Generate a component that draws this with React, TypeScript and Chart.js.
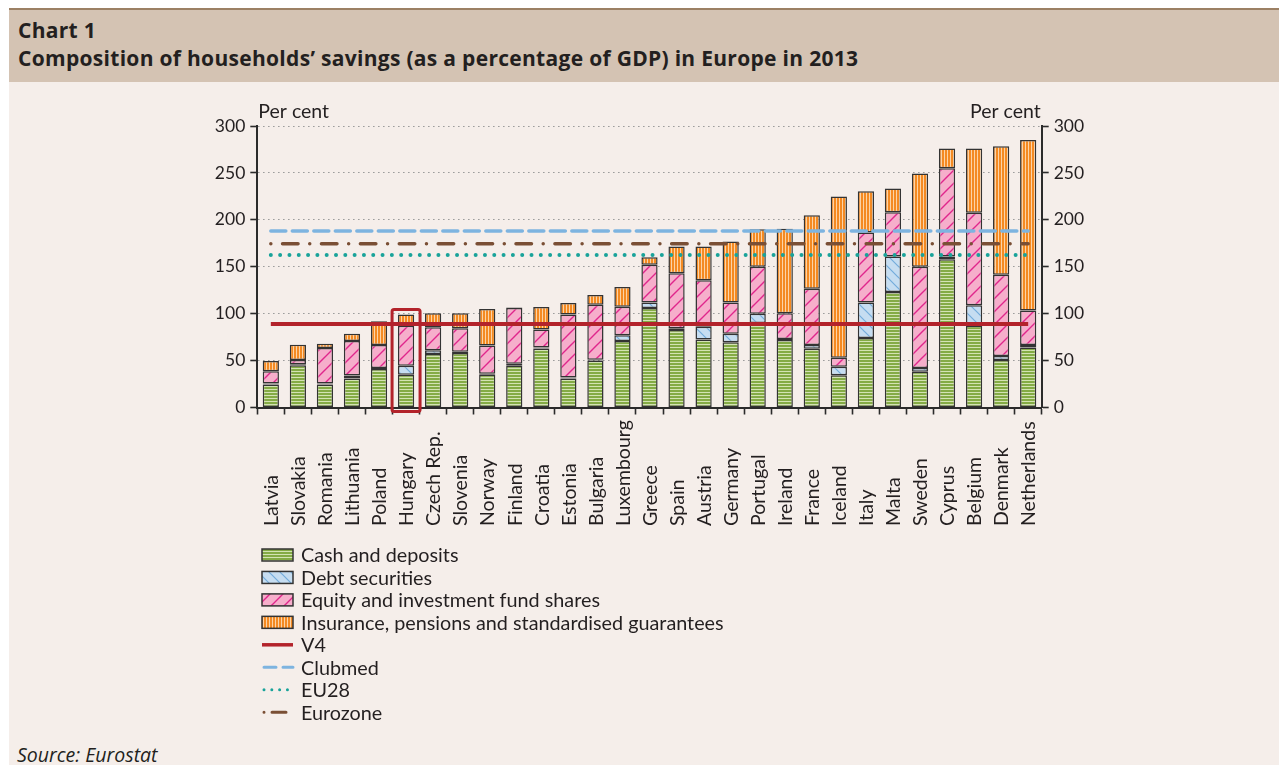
import React, { useEffect, useRef } from 'react';
import { Chart, registerables } from 'chart.js';

Chart.register(...registerables);

const countries = [
  'Latvia', 'Slovakia', 'Romania', 'Lithuania', 'Poland', 'Hungary', 'Czech Rep.', 'Slovenia', 'Norway', 'Finland',
  'Croatia', 'Estonia', 'Bulgaria', 'Luxembourg', 'Greece', 'Spain', 'Austria', 'Germany', 'Portugal', 'Ireland',
  'France', 'Iceland', 'Italy', 'Malta', 'Sweden', 'Cyprus', 'Belgium', 'Denmark', 'Netherlands',
];
const cashDeposits = [24.5, 45, 24.5, 31, 41, 35, 57, 58, 35, 44.5, 63, 31, 50, 71, 106, 82.5, 72.5, 69.5, 90, 72, 62.5, 34.5, 74, 123, 38, 158, 87, 50.5, 64];
const debtSecurities = [1, 1, 1, 3, 1, 9.5, 4, 1.5, 1, 2, 1, 1, 1, 6, 6, 2, 13.5, 9, 10, 1, 4, 9, 38, 38, 4, 3, 22, 4.5, 2.5];
const equityShares = [13, 4.5, 38, 37, 24.5, 42.5, 24.5, 25, 30, 59.5, 19, 67, 58.5, 30.5, 40, 58.5, 49.5, 33.5, 50, 27.5, 60, 9.5, 74.5, 47, 108, 94, 98.5, 86.5, 37];
const insurancePensions = [11, 16.5, 4.5, 7.5, 25.5, 12, 15, 16, 39, 0.5, 24, 12.5, 10.5, 21, 8, 28.5, 36, 65, 40, 90, 78.5, 172, 44, 25.5, 99.5, 21, 68.5, 137, 181.5];

const v4Level = 89;
const clubmedLevel = 188;
const eu28Level = 162.5;
const eurozoneLevel = 174.5;

const seriesNames = [
  'Cash and deposits',
  'Debt securities',
  'Equity and investment fund shares',
  'Insurance, pensions and standardised guarantees',
  'V4',
  'Clubmed',
  'EU28',
  'Eurozone',
];
const yMin = 0;
const yMax = 300;
const yStep = 50;
const highlighted = 'Hungary';

const FONT = 'Lato, "Open Sans", sans-serif';
const HEAD_FONT = '"Open Sans", Lato, sans-serif';
const TEXT = '#231f20';
const AXIS = '#2b2b2b';

function makePattern(w: number, h: number, draw: (c: CanvasRenderingContext2D) => void) {
  const cv = document.createElement('canvas');
  cv.width = w;
  cv.height = h;
  const c = cv.getContext('2d')!;
  draw(c);
  return c.createPattern(cv, 'repeat')!;
}

export default function App() {
  const ref = useRef<HTMLCanvasElement>(null);

  useEffect(() => {
    const cashP = makePattern(1, 3, (c) => {
      c.fillStyle = '#84ab45';
      c.fillRect(0, 0, 1, 3);
      c.fillStyle = '#d3e3b3';
      c.fillRect(0, 2, 1, 1);
    });
    const insP = makePattern(3, 1, (c) => {
      c.fillStyle = '#f48a22';
      c.fillRect(0, 0, 3, 1);
      c.fillStyle = '#fcd3a6';
      c.fillRect(2, 0, 1, 1);
    });
    const eqP = makePattern(13, 13, (c) => {
      c.fillStyle = '#f6aecb';
      c.fillRect(0, 0, 13, 13);
      c.strokeStyle = '#e0268c';
      c.lineWidth = 1.4;
      c.beginPath();
      c.moveTo(-1, 14); c.lineTo(14, -1);
      c.moveTo(-2, 2); c.lineTo(2, -2);
      c.moveTo(11, 15); c.lineTo(15, 11);
      c.stroke();
    });
    const debtP = makePattern(11, 11, (c) => {
      c.fillStyle = '#c6ddf1';
      c.fillRect(0, 0, 11, 11);
      c.strokeStyle = '#74acdb';
      c.lineWidth = 1.2;
      c.beginPath();
      c.moveTo(-1, -1); c.lineTo(12, 12);
      c.moveTo(9, -2); c.lineTo(13, 2);
      c.moveTo(-2, 9); c.lineTo(2, 13);
      c.stroke();
    });

    const barBase = {
      type: 'bar' as const,
      borderColor: '#333333',
      borderWidth: 1.5,
      borderSkipped: false as const,
      barPercentage: 0.6,
      categoryPercentage: 1,
      stack: 'bars',
      order: 2,
    };
    const lineBase = {
      type: 'line' as const,
      pointRadius: 0,
      pointHoverRadius: 0,
      fill: false,
      tension: 0,
      order: 1,
    };

    const datasets: any[] = [
      { ...barBase, label: seriesNames[0], data: cashDeposits, backgroundColor: cashP },
      { ...barBase, label: seriesNames[1], data: debtSecurities, backgroundColor: debtP },
      { ...barBase, label: seriesNames[2], data: equityShares, backgroundColor: eqP },
      { ...barBase, label: seriesNames[3], data: insurancePensions, backgroundColor: insP },
      { ...lineBase, label: seriesNames[4], data: countries.map(() => v4Level), borderColor: '#b3232b', borderWidth: 4, stack: 'l1', borderDash: [] },
      { ...lineBase, label: seriesNames[5], data: countries.map(() => clubmedLevel), borderColor: '#7db4e0', borderWidth: 3.5, stack: 'l2', borderDash: [15, 6.5], borderCapStyle: 'round' },
      { ...lineBase, label: seriesNames[6], data: countries.map(() => eu28Level), borderColor: '#19a39a', borderWidth: 4, stack: 'l3', borderDash: [0.01, 9.3], borderCapStyle: 'round' },
      { ...lineBase, label: seriesNames[7], data: countries.map(() => eurozoneLevel), borderColor: '#7a4f35', borderWidth: 3.5, stack: 'l4', borderDash: [0.01, 11.7, 15.5, 11.7], borderCapStyle: 'round' },
    ];

    const CANVAS_LEFT = 150;
    const CANVAS_TOP = 90;

    const overlay = {
      id: 'overlay',
      afterDatasetsDraw(chart: any) {
        const ctx = chart.ctx as CanvasRenderingContext2D;
        const xs = chart.scales.x;
        const ys = chart.scales.y;
        const area = chart.chartArea;
        const hi = countries.indexOf(highlighted);
        if (hi >= 0) {
          const cx = xs.getPixelForValue(hi);
          const total = cashDeposits[hi] + debtSecurities[hi] + equityShares[hi] + insurancePensions[hi];
          const top = ys.getPixelForValue(total) - 5;
          const bottom = area.bottom + 4;
          const half = 14;
          ctx.save();
          ctx.strokeStyle = '#b3232b';
          ctx.lineWidth = 3;
          ctx.lineJoin = 'round';
          ctx.beginPath();
          if ((ctx as any).roundRect) (ctx as any).roundRect(cx - half, top, half * 2, bottom - top, 2);
          else ctx.rect(cx - half, top, half * 2, bottom - top);
          ctx.stroke();
          ctx.restore();
        }
      },
      afterDraw(chart: any) {
        const ctx = chart.ctx as CanvasRenderingContext2D;
        const xs = chart.scales.x;
        const area = chart.chartArea;
        ctx.save();
        ctx.fillStyle = TEXT;
        ctx.font = `19.5px ${FONT}`;
        ctx.textBaseline = 'middle';
        ctx.textAlign = 'left';
        ctx.fillText('Per cent', area.left + 1, area.top - 14);
        ctx.textAlign = 'right';
        ctx.fillText('Per cent', area.right - 1, area.top - 14);
        ctx.font = `19.5px ${FONT}`;
        ctx.textAlign = 'left';
        ctx.textBaseline = 'middle';
        const labelBottom = 526 - CANVAS_TOP;
        countries.forEach((name, i) => {
          const x = xs.getPixelForValue(i);
          ctx.save();
          ctx.translate(x + 1, labelBottom);
          ctx.rotate(-Math.PI / 2);
          ctx.fillText(name, 0, 0);
          ctx.restore();
        });
        const lx = 262 - CANVAS_LEFT;
        const ly0 = 555 - CANVAS_TOP;
        const rowH = 22.45;
        ctx.font = `19.8px ${FONT}`;
        chart.data.datasets.forEach((ds: any, i: number) => {
          const cy = ly0 + i * rowH;
          if (ds.type === 'bar') {
            ctx.fillStyle = ds.backgroundColor;
            ctx.fillRect(lx, cy - 6, 31, 12);
            ctx.strokeStyle = '#333333';
            ctx.lineWidth = 1.5;
            ctx.strokeRect(lx, cy - 6, 31, 12);
          } else {
            ctx.save();
            ctx.strokeStyle = ds.borderColor;
            ctx.lineWidth = ds.label === 'V4' ? 3.5 : 3;
            ctx.lineCap = ds.borderCapStyle || 'butt';
            let dash = ds.borderDash || [];
            if (ds.label === 'Clubmed') dash = [12, 7];
            if (ds.label === 'Eurozone') dash = [0.01, 8, 14, 20];
            if (ds.label === 'EU28') dash = [0.01, 7.8];
            ctx.setLineDash(dash);
            ctx.beginPath();
            const x0 = ds.label === 'V4' ? lx : lx + 2;
            ctx.moveTo(x0, cy);
            ctx.lineTo(lx + 31, cy);
            ctx.stroke();
            ctx.restore();
          }
          ctx.fillStyle = TEXT;
          ctx.textAlign = 'left';
          ctx.textBaseline = 'middle';
          ctx.fillText(ds.label, lx + 39, cy + 1);
        });
        ctx.restore();
      },
    };

    const tickFont = { family: FONT, size: 17.5 };

    const chart = new Chart(ref.current!, {
      type: 'bar',
      data: { labels: countries, datasets },
      options: {
        responsive: false,
        animation: false,
        events: [],
        layout: { padding: { top: 36, bottom: 190, left: 0, right: 0 } },
        plugins: {
          legend: { display: false },
          tooltip: { enabled: false },
          title: { display: false },
        },
        scales: {
          x: {
            stacked: true,
            offset: true,
            grid: {
              display: true,
              drawOnChartArea: false,
              offset: true,
              tickLength: 7,
              tickColor: AXIS,
              tickWidth: 1.6,
            },
            border: { display: true, color: AXIS, width: 2 },
            ticks: { display: false },
            afterFit: (s: any) => { s.height = 132.5; },
          },
          y: {
            type: 'linear',
            position: 'left',
            stacked: true,
            min: yMin,
            max: yMax,
            grid: {
              color: '#9d9d9d',
              lineWidth: 1,
              tickLength: 7,
              tickColor: AXIS,
              tickWidth: 1.6,
            },
            border: { display: true, color: AXIS, width: 2, dash: [1.6, 3.4] },
            ticks: { stepSize: yStep, font: tickFont, color: TEXT, padding: 5 },
            afterFit: (s: any) => { s.width = 107.3; },
          },
          y2: {
            type: 'linear',
            position: 'right',
            min: yMin,
            max: yMax,
            grid: {
              drawOnChartArea: false,
              tickLength: 7,
              tickColor: AXIS,
              tickWidth: 1.6,
            },
            border: { display: true, color: AXIS, width: 2 },
            ticks: { stepSize: yStep, font: tickFont, color: TEXT, padding: 5 },
            afterFit: (s: any) => { s.width = 108.3; },
          },
        },
      },
      plugins: [overlay],
    } as any);

    return () => chart.destroy();
  }, []);

  const headStyle: React.CSSProperties = {
    position: 'absolute',
    left: 9,
    fontFamily: HEAD_FONT,
    fontSize: 21,
    fontWeight: 700,
    lineHeight: '26px',
    letterSpacing: '0.3px',
    whiteSpace: 'nowrap',
  };

  return (
    <div
      style={{
        position: 'fixed',
        left: 0,
        top: 0,
        width: 1279,
        height: 765,
        background: '#ffffff',
        overflow: 'hidden',
        fontFamily: FONT,
        color: TEXT,
      }}
    >
      <div style={{ position: 'absolute', left: 9, top: 8, width: 1270, height: 2, background: '#9c8064' }} />
      <div style={{ position: 'absolute', left: 9, top: 10, width: 1270, height: 72, background: '#d4c3b3' }}>
        <div style={{ ...headStyle, top: 7 }}>Chart 1</div>
        <div style={{ ...headStyle, top: 35 }}>
          Composition of households’ savings (as a percentage of GDP) in Europe in 2013
        </div>
      </div>
      <div style={{ position: 'absolute', left: 9, top: 82, width: 1270, height: 683, background: '#f5eeea' }} />
      <canvas
        ref={ref}
        width={1000}
        height={640}
        style={{ position: 'absolute', left: 150, top: 90, width: 1000, height: 640 }}
      />
      <div
        style={{
          position: 'absolute',
          left: 17,
          top: 742,
          fontFamily: HEAD_FONT,
          fontSize: 19.5,
          fontStyle: 'italic',
          lineHeight: '26px',
          whiteSpace: 'nowrap',
        }}
      >
        Source: Eurostat
      </div>
    </div>
  );
}
